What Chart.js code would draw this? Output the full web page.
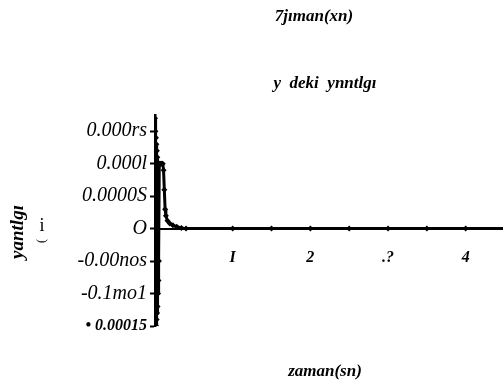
<!DOCTYPE html>
<html>
<head>
<meta charset="utf-8">
<script src="https://cdn.jsdelivr.net/npm/chart.js@4/dist/chart.umd.min.js"></script>
<style>
  html, body { margin: 0; padding: 0; background: #fff; }
  #wrap { width: 503px; height: 386px; position: relative; }
</style>
</head>
<body>
<div id="wrap"><canvas id="chart"></canvas></div>
<script>
// time (s) and response
var zaman = [0, 0.003, 0.006, 0.009, 0.012, 0.015, 0.018, 0.021, 0.024, 0.027, 0.030, 0.033,
    0.036, 0.039, 0.042, 0.045, 0.048, 0.051, 0.055, 0.06, 0.07, 0.08, 0.09, 0.10, 0.11,
    0.12, 0.13, 0.14, 0.16, 0.19, 0.23, 0.28, 0.34, 0.40, 1, 1.5, 2, 2.5, 3, 3.5, 4, 4.5];
var yanit = [0.00017, -0.00015, 0.00015, -0.00015, 0.00014, -0.00015, 0.00013, -0.00014,
    0.00012, -0.00013, 0.00011, -0.00012, 0.0001, -0.0001, 0.0001, -0.00008, 0.0001, -0.00005,
    0.0001, 0.0001, 0.0001, 0.0001, 0.0001, 0.0001, 0.00009, 0.00006, 0.00003, 0.00002,
    0.000012, 0.000008, 0.000005, 0.000003, 0.000001, 0, 0, 0, 0, 0, 0, 0, 0, 0];

var yTickValues = [-0.00015, -0.0001, -0.00005, 0, 0.00005, 0.0001, 0.00015];
var yTickLabels = ['\u2022 0.00015', '-0.1mo1', '-0.00nos', 'O', '0.0000S', '0.000l', '0.000rs'];
var xTickLabels = ['', 'I', '2', '.?', '4'];

var serif = '"Liberation Serif", "DejaVu Serif", serif';

// loose texts of the scan
var texts = [
    {t: '7jıman(xn)', x: 314, y: 17, font: 'bold italic 17px ' + serif},
    {t: 'y  deki  ynntlgı', x: 325, y: 84, font: 'bold italic 17px ' + serif},
    {t: 'zaman(sn)', x: 325, y: 372, font: 'bold italic 17px ' + serif},
    {t: 'i', x: 42, y: 226, font: '18px ' + serif}
];

var scanText = {
    id: 'scanText',
    afterDraw: function(chart) {
        var ctx = chart.ctx;
        ctx.save();
        ctx.fillStyle = '#000';
        ctx.textAlign = 'center';
        ctx.textBaseline = 'middle';
        texts.forEach(function(o) {
            ctx.font = o.font;
            ctx.fillText(o.t, o.x, o.y);
        });
        // y axis title
        ctx.save();
        ctx.translate(18, 232);
        ctx.rotate(-Math.PI / 2);
        ctx.font = 'bold italic 19px ' + serif;
        ctx.fillText('yantlgı', 0, 0);
        ctx.restore();
        ctx.save();
        ctx.translate(42, 241);
        ctx.rotate(-Math.PI / 2);
        ctx.font = '12px ' + serif;
        ctx.fillText('(', 0, 0);
        ctx.restore();
        ctx.restore();
    }
};

var points = zaman.map(function(t, i) { return {x: t, y: yanit[i]}; });

new Chart(document.getElementById('chart'), {
    type: 'scatter',
    data: {
        datasets: [{
            label: 'yanit',
            data: points,
            showLine: true,
            borderColor: '#000',
            backgroundColor: '#000',
            borderWidth: 3,
            pointStyle: 'rectRot',
            pointRadius: 3,
            pointBorderWidth: 0
        }]
    },
    options: {
        responsive: true,
        maintainAspectRatio: false,
        animation: false,
        layout: { autoPadding: false, padding: { top: 115, bottom: 60, left: 0, right: 0 } },
        plugins: {
            legend: { display: false },
            title: { display: false },
            tooltip: { enabled: false }
        },
        scales: {
            x: {
                type: 'linear',
                position: { y: 0 },
                min: 0,
                max: 4.48,
                afterBuildTicks: function(scale) {
                    scale.ticks = xTickLabels.map(function(l, i) { return {value: i}; });
                },
                grid: { drawOnChartArea: false, drawTicks: false },
                border: { color: '#000', width: 2 },
                ticks: {
                    autoSkip: false,
                    maxRotation: 0,
                    padding: 20,
                    color: '#000',
                    font: { family: serif, size: 16, weight: 'bold', style: 'italic' },
                    callback: function(v, i) { return xTickLabels[i]; }
                }
            },
            y: {
                min: -0.00015,
                max: 0.000175,
                afterBuildTicks: function(scale) {
                    scale.ticks = yTickValues.map(function(v) { return {value: v}; });
                },
                afterFit: function(scale) { scale.width = 155; },
                grid: { drawOnChartArea: false, drawTicks: true, tickLength: 5, tickWidth: 2, tickColor: '#000' },
                border: { color: '#000', width: 2.5 },
                ticks: {
                    padding: 3,
                    color: '#000',
                    font: function(c) {
                        if (c.index === 0) return { family: serif, size: 16, weight: 'bold', style: 'italic' };
                        return { family: serif, size: 20, style: 'italic' };
                    },
                    callback: function(v, i) { return yTickLabels[i]; }
                }
            }
        }
    },
    plugins: [scanText]
});
</script>
</body>
</html>
